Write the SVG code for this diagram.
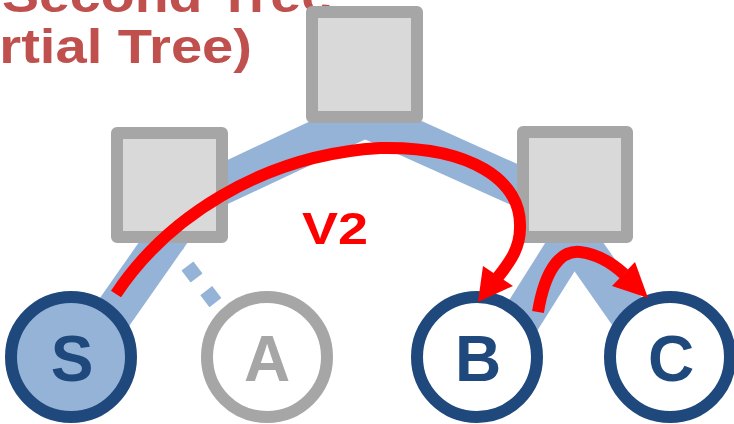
<svg xmlns="http://www.w3.org/2000/svg" width="734" height="424" viewBox="0 0 734 424">
<style>
.title{font-family:"Liberation Sans",Arial,sans-serif;font-weight:bold;font-size:48px;fill:#C0504D}
.band{stroke:#95B3D7;stroke-width:40;fill:none}
.dot{stroke:#95B3D7;stroke-width:15;fill:none;stroke-dasharray:15 16;stroke-dashoffset:16.7}
.sq{fill:#D9D9D9;stroke:#A6A6A6;stroke-width:12;stroke-linejoin:round}
.nd{stroke:#1F497D;stroke-width:12;fill:#FFFFFF}
.lbl{font-family:"Liberation Sans",Arial,sans-serif;font-weight:bold;font-size:64px;text-anchor:middle;fill:#1F497D}
.red{stroke:#FF0000;stroke-width:12;fill:none}
.head{fill:#FF0000}
</style>
<g id="title">
<text class="title" x="2" y="12" textLength="330" lengthAdjust="spacingAndGlyphs">Second Tree</text>
<text class="title" x="-88" y="63" textLength="340" lengthAdjust="spacingAndGlyphs">(Partial Tree)</text>
</g>
<g id="connectors">
<line class="band" x1="364" y1="118" x2="200" y2="195"/>
<line class="band" x1="364" y1="117" x2="560" y2="205"/>
<line class="band" x1="200" y1="190" x2="83" y2="357"/>
<line class="dot" x1="160" y1="230" x2="250" y2="348"/>
<line class="band" x1="577" y1="230" x2="497" y2="357"/>
<line class="band" x1="570" y1="230" x2="659" y2="357"/>
</g>
<g id="root"><rect class="sq" x="312" y="12" width="105" height="105"/></g>
<g id="left"><rect class="sq" x="117" y="133" width="105" height="104"/></g>
<g id="right"><rect class="sq" x="523" y="132" width="104" height="105"/></g>
<g id="S"><circle class="nd" cx="71" cy="357" r="60" style="fill:#95B3D7"/><text class="lbl" x="72" y="381">S</text></g>
<g id="A"><circle class="nd" cx="267" cy="357" r="60" style="stroke:#A6A6A6"/><text class="lbl" x="267" y="381" style="fill:#A6A6A6">A</text></g>
<g id="B"><circle class="nd" cx="477" cy="357" r="60"/><text class="lbl" x="478" y="381">B</text></g>
<g id="C"><circle class="nd" cx="670" cy="357" r="60"/><text class="lbl" x="671" y="381">C</text></g>
<g id="v2-path">
<path class="red" d="M116,294 C165,220 260,155 380,148 C470,146 522,180 520,228 C520,248 510,262 498,277"/>
<polygon class="head" points="478,302 483,266 513,286"/>
<path class="red" d="M538,312 C545,270 560,250 580,252 C598,254 612,263 624,274"/>
<polygon class="head" points="648,298 635,262 612,286"/>
<text x="302" y="244" textLength="66" lengthAdjust="spacingAndGlyphs" style="font-family:'Liberation Sans',Arial,sans-serif;font-weight:bold;font-size:44px;fill:#FF0000">V2</text>
</g>
</svg>
